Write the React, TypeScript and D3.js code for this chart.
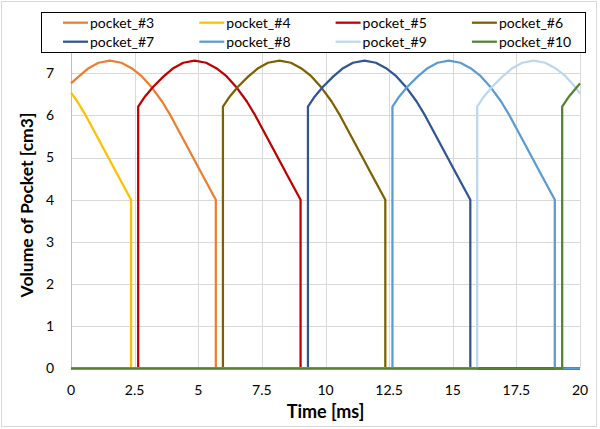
import * as d3 from "d3";
import { useEffect, useRef } from "react";

// time [ms], volume [cm3]
type Pt = [number, number];

const pocket3: Pt[] = [
  [0, 6.76], [0.3, 6.92], [0.69, 7.12], [1.08, 7.25], [1.53, 7.3], [1.98, 7.25],
  [2.38, 7.12], [2.78, 6.93], [3.18, 6.66], [3.58, 6.33], [3.91, 6.0], [4.38, 5.47],
  [4.78, 5.02], [5.18, 4.57], [5.69, 4.0], [5.69, 0], [20, 0],
];
const pocket4: Pt[] = [
  [0, 6.54], [0.25, 6.33], [0.58, 6.0], [1.05, 5.47], [1.45, 5.02], [1.85, 4.57],
  [2.36, 4.0], [2.36, 0], [20, 0],
];
const pocket5: Pt[] = [
  [0, 0], [2.64, 0], [2.64, 6.21], [2.91, 6.45], [3.23, 6.68], [3.63, 6.92],
  [4.02, 7.12], [4.41, 7.25], [4.86, 7.3], [5.31, 7.25], [5.71, 7.12], [6.11, 6.93],
  [6.51, 6.66], [6.91, 6.33], [7.24, 6.0], [7.71, 5.47], [8.11, 5.02], [8.51, 4.57],
  [9.02, 4.0], [9.02, 0], [20, 0],
];
const pocket6: Pt[] = [
  [0, 0], [5.97, 0], [5.97, 6.21], [6.24, 6.45], [6.56, 6.68], [6.96, 6.92],
  [7.35, 7.12], [7.74, 7.25], [8.19, 7.3], [8.64, 7.25], [9.04, 7.12], [9.44, 6.93],
  [9.84, 6.66], [10.24, 6.33], [10.57, 6.0], [11.04, 5.47], [11.44, 5.02], [11.84, 4.57],
  [12.35, 4.0], [12.35, 0], [20, 0],
];
const pocket7: Pt[] = [
  [0, 0], [9.31, 0], [9.31, 6.21], [9.58, 6.45], [9.9, 6.68], [10.3, 6.92],
  [10.69, 7.12], [11.08, 7.25], [11.53, 7.3], [11.98, 7.25], [12.38, 7.12], [12.78, 6.93],
  [13.18, 6.66], [13.58, 6.33], [13.91, 6.0], [14.38, 5.47], [14.78, 5.02], [15.18, 4.57],
  [15.69, 4.0], [15.69, 0], [20, 0],
];
const pocket8: Pt[] = [
  [0, 0], [12.63, 0], [12.63, 6.21], [12.9, 6.45], [13.22, 6.68], [13.62, 6.92],
  [14.01, 7.12], [14.4, 7.25], [14.85, 7.3], [15.3, 7.25], [15.7, 7.12], [16.1, 6.93],
  [16.5, 6.66], [16.9, 6.33], [17.23, 6.0], [17.7, 5.47], [18.1, 5.02], [18.5, 4.57],
  [19.01, 4.0], [19.01, 0], [20, 0],
];
const pocket9: Pt[] = [
  [0, 0], [15.96, 0], [15.96, 6.21], [16.23, 6.45], [16.55, 6.68], [16.95, 6.92],
  [17.34, 7.12], [17.73, 7.25], [18.18, 7.3], [18.63, 7.25], [19.03, 7.12], [19.43, 6.93],
  [19.83, 6.66], [20, 6.52],
];
const pocket10: Pt[] = [
  [0, 0], [19.3, 0], [19.3, 6.21], [19.57, 6.45], [19.89, 6.68], [20, 6.76],
];

const seriesNames = [
  "pocket_#3", "pocket_#4", "pocket_#5", "pocket_#6",
  "pocket_#7", "pocket_#8", "pocket_#9", "pocket_#10",
];
const seriesData = [pocket3, pocket4, pocket5, pocket6, pocket7, pocket8, pocket9, pocket10];
const seriesColors = [
  "#ED7D31", "#FFC000", "#C00000", "#7F6000",
  "#2F5597", "#5B9BD5", "#BDD7EE", "#548235",
];

const xTicks = [0, 2.5, 5, 7.5, 10, 12.5, 15, 17.5, 20];
const yTicks = [0, 1, 2, 3, 4, 5, 6, 7];

const W = 600;
const H = 429;
const FONT = "Lato, 'Open Sans', sans-serif";

export default function App() {
  const ref = useRef<SVGSVGElement>(null);

  useEffect(() => {
    if (!ref.current) return;
    const svg = d3.select(ref.current);
    svg.selectAll("*").remove();

    const x = d3.scaleLinear().domain([0, 20]).range([71, 580]);
    const y = d3.scaleLinear().domain([0, 7.5]).range([368.3, 52.2]);

    svg.append("rect")
      .attr("x", 1.5).attr("y", 1.5).attr("width", 595).attr("height", 425)
      .attr("fill", "#fff").attr("stroke", "#d9d9d9");

    // gridlines
    const grid = svg.append("g").attr("stroke", "#d9d9d9").attr("stroke-width", 1);
    grid.selectAll("line.h")
      .data(yTicks.slice(1))
      .enter().append("line")
      .attr("x1", x(0)).attr("x2", x(20))
      .attr("y1", (d) => Math.round(y(d)) + 0.5).attr("y2", (d) => Math.round(y(d)) + 0.5);
    grid.selectAll("line.v")
      .data(xTicks.slice(1))
      .enter().append("line")
      .attr("y1", y(0)).attr("y2", y(7.5))
      .attr("x1", (d) => Math.round(x(d)) + 0.5).attr("x2", (d) => Math.round(x(d)) + 0.5);

    // axis lines
    svg.append("line")
      .attr("x1", Math.round(x(0)) + 0.5).attr("x2", Math.round(x(0)) + 0.5)
      .attr("y1", y(0)).attr("y2", y(7.5))
      .attr("stroke", "#bfbfbf");
    svg.append("line")
      .attr("x1", x(0)).attr("x2", x(20))
      .attr("y1", y(0)).attr("y2", y(0))
      .attr("stroke", "#bfbfbf");

    // tick labels
    svg.append("g").selectAll("text")
      .data(yTicks)
      .enter().append("text")
      .attr("x", 54).attr("y", (d) => y(d))
      .attr("dy", "0.35em")
      .attr("text-anchor", "end")
      .attr("font-family", FONT).attr("font-size", 14).attr("fill", "#000")
      .text((d) => String(d));
    svg.append("g").selectAll("text")
      .data(xTicks)
      .enter().append("text")
      .attr("x", (d) => x(d)).attr("y", 395)
      .attr("text-anchor", "middle")
      .attr("font-family", FONT).attr("font-size", 14).attr("fill", "#000")
      .text((d) => String(d));

    // axis titles
    svg.append("text")
      .attr("x", 325.5).attr("y", 418)
      .attr("text-anchor", "middle")
      .attr("font-family", FONT).attr("font-size", 18).attr("font-weight", "bold")
      .text("Time [ms]");
    svg.append("text")
      .attr("transform", "translate(33,205) rotate(-90)")
      .attr("text-anchor", "middle")
      .attr("font-family", FONT).attr("font-size", 17.5).attr("font-weight", "bold")
      .text("Volume of Pocket [cm3]");

    // series
    const line = d3.line<Pt>().x((d) => x(d[0])).y((d) => y(d[1]));
    svg.append("g").selectAll("path")
      .data(seriesData)
      .enter().append("path")
      .attr("d", (d) => line(d))
      .attr("fill", "none")
      .attr("stroke", (_, i) => seriesColors[i])
      .attr("stroke-width", 2.25)
      .attr("stroke-linejoin", "round");

    // legend
    const lg = svg.append("g");
    lg.append("rect")
      .attr("x", 41.5).attr("y", 12.5).attr("width", 544).attr("height", 40)
      .attr("fill", "#fff").attr("stroke", "#000");
    const item = lg.selectAll("g.item")
      .data(seriesNames)
      .enter().append("g")
      .attr("transform", (_, i) => `translate(${63 + (i % 4) * 136.3},${i < 4 ? 22.7 : 41.7})`);
    item.append("line")
      .attr("x1", 0).attr("x2", 25).attr("y1", 0).attr("y2", 0)
      .attr("stroke", (_, i) => seriesColors[i]).attr("stroke-width", 2.25);
    item.append("text")
      .attr("x", 27).attr("dy", "0.35em")
      .attr("font-family", FONT).attr("font-size", 14).attr("fill", "#000")
      .text((d) => d);
  }, []);

  return (
    <div style={{ position: "absolute", left: 0, top: 0 }}>
      <svg ref={ref} width={W} height={H} />
    </div>
  );
}
